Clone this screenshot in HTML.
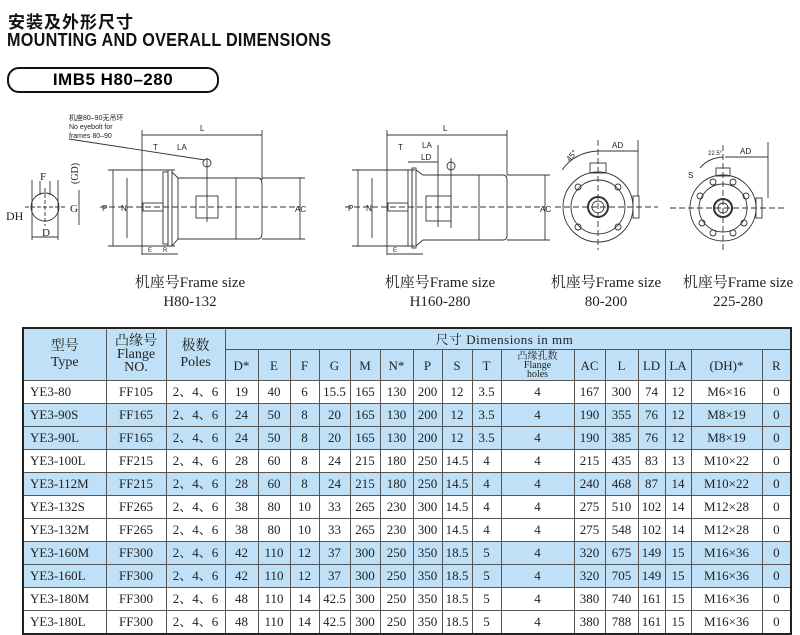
<!DOCTYPE html>
<html><head><meta charset="utf-8"><style>
body{margin:0;width:800px;height:633px;overflow:hidden;background:#fff;position:relative;font-family:"Liberation Serif","Noto Serif CJK SC",serif;}
.t1{position:absolute;left:8px;top:8px;font:bold 17px "Liberation Sans","Noto Sans CJK SC",sans-serif;color:#111;letter-spacing:1px}
.t2{position:absolute;left:7px;top:30px;font:bold 18px "Liberation Sans",sans-serif;color:#111;transform:scaleX(.9);transform-origin:left;letter-spacing:.3px}
.pill{position:absolute;left:7px;top:67px;width:208px;height:22px;border:2px solid #111;border-radius:12px;font:bold 17px "Liberation Sans",sans-serif;text-align:center;line-height:22px;letter-spacing:.5px}
.cap{position:absolute;font-size:15px;text-align:center;color:#222;line-height:19px}
table{position:absolute;left:22px;top:327px;border-collapse:collapse;table-layout:fixed;width:768px;border:2px solid #222;}
td{border:1px solid #555;text-align:center;font-size:13px;height:22px;line-height:22px;padding:0;white-space:nowrap;color:#222;overflow:hidden}
tr.b td{background:#bfe0f6}
thead td{background:#bfe0f6;line-height:13px}
td.l{text-align:left;padding-left:6px}
</style></head><body>
<div class="t1">安装及外形尺寸</div>
<div class="t2">MOUNTING AND OVERALL DIMENSIONS</div>
<div class="pill">IMB5 H80–280</div>

<svg width="800" height="320" style="position:absolute;left:0;top:0" stroke="#333" fill="none" stroke-width="0.9" font-family="Liberation Sans" font-size="8">
<circle cx="45" cy="207" r="14"/><line x1="25" y1="207" x2="65" y2="207" stroke-dasharray="4 2"/><line x1="45" y1="188" x2="45" y2="226" stroke-dasharray="4 2"/>
<line x1="32" y1="180" x2="32" y2="240"/><line x1="58" y1="180" x2="58" y2="240"/><line x1="32" y1="237" x2="58" y2="237"/>
<line x1="40" y1="181" x2="40" y2="195"/><line x1="50" y1="181" x2="50" y2="195"/><line x1="79" y1="190" x2="79" y2="225"/>
<text x="40" y="180" fill="#222" stroke="none" font-family="Liberation Serif" font-size="11">F</text>
<text x="70" y="212" fill="#222" stroke="none" font-family="Liberation Serif" font-size="11">G</text>
<text x="70" y="184" fill="#222" stroke="none" font-family="Liberation Serif" font-size="10" transform="rotate(-90 74 180)">(GD)</text>
<text x="6" y="220" fill="#222" stroke="none" font-family="Liberation Serif" font-size="12">DH</text>
<text x="42" y="236" fill="#222" stroke="none" font-family="Liberation Serif" font-size="11">D</text>
<text x="69" y="120" fill="#222" stroke="none" font-size="7">机座80–90无吊环</text>
<text x="69" y="129" fill="#222" stroke="none" font-size="7">No eyebolt for</text>
<text x="69" y="138" fill="#222" stroke="none" font-size="7">frames 80–90</text>
<line x1="69" y1="139" x2="205" y2="160"/>
<line x1="142" y1="135" x2="262" y2="135"/><text x="200" y="131" fill="#222" stroke="none">L</text>
<line x1="142" y1="130" x2="142" y2="255"/><line x1="262" y1="130" x2="262" y2="180"/>
<line x1="108" y1="170" x2="175" y2="170"/><line x1="108" y1="246" x2="175" y2="246"/>
<line x1="113" y1="170" x2="113" y2="246"/><line x1="127" y1="178" x2="127" y2="238"/>
<text x="102" y="211" fill="#222" stroke="none">P</text><text x="121" y="211" fill="#222" stroke="none">N</text>
<rect x="163" y="172" width="5" height="72"/><rect x="168" y="170" width="4" height="76"/>
<path d="M172 172 L178 178 L258 178 Q262 178 262 184 L262 233 Q262 239 258 239 L178 239 L172 246"/>
<line x1="178" y1="178" x2="178" y2="239"/><line x1="236" y1="178" x2="236" y2="239"/>
<rect x="196" y="196" width="22" height="22"/><line x1="207" y1="158" x2="207" y2="222"/><circle cx="207" cy="163" r="4"/>
<rect x="143" y="203" width="20" height="8"/>
<line x1="100" y1="207" x2="300" y2="207" stroke-dasharray="6 3"/>
<line x1="262" y1="178" x2="305" y2="178"/><line x1="262" y1="239" x2="305" y2="239"/><line x1="300" y1="178" x2="300" y2="239"/>
<text x="295" y="212" fill="#222" stroke="none">AC</text>
<text x="153" y="150" fill="#222" stroke="none">T</text><text x="177" y="150" fill="#222" stroke="none">LA</text>
<line x1="142" y1="254" x2="178" y2="254"/><text x="148" y="252" fill="#222" stroke="none" font-size="6">E</text><text x="163" y="252" fill="#222" stroke="none" font-size="6">R</text>
<line x1="387" y1="135" x2="507" y2="135"/><text x="443" y="131" fill="#222" stroke="none">L</text>
<line x1="387" y1="130" x2="387" y2="255"/><line x1="507" y1="130" x2="507" y2="175"/>
<line x1="352" y1="170" x2="415" y2="170"/><line x1="352" y1="246" x2="415" y2="246"/>
<line x1="358" y1="170" x2="358" y2="246"/><line x1="372" y1="178" x2="372" y2="238"/>
<text x="348" y="211" fill="#222" stroke="none">P</text><text x="366" y="211" fill="#222" stroke="none">N</text>
<rect x="408" y="170" width="4" height="76"/><rect x="412" y="168" width="4" height="80"/>
<path d="M416 170 L423 175 L503 175 Q507 175 507 180 L507 236 Q507 240 503 240 L423 240 L416 246"/>
<line x1="479" y1="175" x2="479" y2="240"/><rect x="426" y="196" width="25" height="25"/>
<line x1="451" y1="158" x2="451" y2="228"/><circle cx="451" cy="166" r="4"/><line x1="438" y1="145" x2="438" y2="227"/>
<rect x="388" y="203" width="20" height="8"/>
<line x1="345" y1="207" x2="545" y2="207" stroke-dasharray="6 3"/>
<line x1="507" y1="175" x2="550" y2="175"/><line x1="507" y1="240" x2="550" y2="240"/><line x1="545" y1="175" x2="545" y2="240"/>
<text x="540" y="212" fill="#222" stroke="none">AC</text>
<text x="398" y="150" fill="#222" stroke="none">T</text><text x="422" y="148" fill="#222" stroke="none">LA</text><text x="421" y="160" fill="#222" stroke="none">LD</text>
<line x1="408" y1="162" x2="438" y2="162"/>
<line x1="387" y1="254" x2="423" y2="254"/><text x="393" y="252" fill="#222" stroke="none" font-size="6">E</text>
<circle cx="598" cy="207" r="35"/><circle cx="598" cy="207" r="27"/><circle cx="598" cy="207" r="10" stroke-width="2"/><circle cx="598" cy="207" r="6"/>
<rect x="590" y="163" width="16" height="10"/><rect x="633" y="196" width="6" height="22"/>
<line x1="555" y1="207" x2="658" y2="207" stroke-dasharray="6 3"/><line x1="598" y1="140" x2="598" y2="250" stroke-dasharray="6 3"/>
<circle cx="578" cy="187" r="3"/><circle cx="618" cy="187" r="3"/><circle cx="578" cy="227" r="3"/><circle cx="618" cy="227" r="3"/>
<line x1="598" y1="151" x2="638" y2="151"/><line x1="638" y1="140" x2="638" y2="196"/>
<text x="612" y="148" fill="#222" stroke="none">AD</text><text x="566" y="160" fill="#222" stroke="none" transform="rotate(-50 570 157)">45°</text>
<path d="M562 170 Q575 152 598 151"/>
<circle cx="723" cy="208" r="33"/><circle cx="723" cy="208" r="24"/><circle cx="723" cy="208" r="9" stroke-width="2"/><circle cx="723" cy="208" r="5"/>
<rect x="716" y="168" width="14" height="8"/><rect x="756" y="198" width="6" height="20"/>
<line x1="670" y1="208" x2="785" y2="208" stroke-dasharray="6 3"/><line x1="723" y1="145" x2="723" y2="250" stroke-dasharray="6 3"/>
<circle cx="700" cy="196" r="3"/><circle cx="746" cy="196" r="3"/><circle cx="702" cy="223" r="3"/><circle cx="744" cy="223" r="3"/>
<circle cx="713" cy="182" r="3"/><circle cx="733" cy="182" r="3"/><circle cx="713" cy="233" r="3"/><circle cx="733" cy="233" r="3"/>
<line x1="725" y1="157" x2="768" y2="157"/><line x1="768" y1="142" x2="768" y2="198"/>
<text x="740" y="154" fill="#222" stroke="none">AD</text><text x="708" y="155" fill="#222" stroke="none" font-size="6">22.5°</text>
<path d="M700 168 Q708 158 723 157"/><text x="688" y="178" fill="#222" stroke="none">S</text>
</svg>

<div class="cap" style="left:115px;top:274px;width:150px">机座号Frame size<br>H80-132</div>
<div class="cap" style="left:365px;top:274px;width:150px">机座号Frame size<br>H160-280</div>
<div class="cap" style="left:531px;top:274px;width:150px">机座号Frame size<br>80-200</div>
<div class="cap" style="left:663px;top:274px;width:150px">机座号Frame size<br>225-280</div>

<table>
<colgroup><col style="width:83px"><col style="width:60px"><col style="width:59px"><col style="width:33px"><col style="width:32px"><col style="width:29px"><col style="width:31px"><col style="width:30px"><col style="width:33px"><col style="width:29px"><col style="width:30px"><col style="width:29px"><col style="width:73px"><col style="width:31px"><col style="width:33px"><col style="width:27px"><col style="width:26px"><col style="width:71px"><col style="width:29px"></colgroup>
<thead>
<tr><td rowspan="2" style="font-size:14px;line-height:16px">型号<br>Type</td><td rowspan="2" style="font-size:14px">凸缘号<br>Flange<br>NO.</td><td rowspan="2" style="font-size:14px;line-height:16px">极数<br>Poles</td><td colspan="16" style="height:20px;font-size:13px;text-align:left;padding-left:210px;letter-spacing:.5px">尺寸 Dimensions in mm</td></tr>
<tr style="height:31px"><td>D*</td><td>E</td><td>F</td><td>G</td><td>M</td><td>N*</td><td>P</td><td>S</td><td>T</td><td style="font-size:10px;line-height:9px">凸缘孔数<br>Flange<br>holes</td><td>AC</td><td>L</td><td>LD</td><td>LA</td><td>(DH)*</td><td>R</td></tr>
</thead>
<tbody>
<tr><td class="l">YE3-80</td><td>FF105</td><td>2、4、6</td><td>19</td><td>40</td><td>6</td><td>15.5</td><td>165</td><td>130</td><td>200</td><td>12</td><td>3.5</td><td>4</td><td>167</td><td>300</td><td>74</td><td>12</td><td>M6×16</td><td>0</td></tr>
<tr class="b"><td class="l">YE3-90S</td><td>FF165</td><td>2、4、6</td><td>24</td><td>50</td><td>8</td><td>20</td><td>165</td><td>130</td><td>200</td><td>12</td><td>3.5</td><td>4</td><td>190</td><td>355</td><td>76</td><td>12</td><td>M8×19</td><td>0</td></tr>
<tr class="b"><td class="l">YE3-90L</td><td>FF165</td><td>2、4、6</td><td>24</td><td>50</td><td>8</td><td>20</td><td>165</td><td>130</td><td>200</td><td>12</td><td>3.5</td><td>4</td><td>190</td><td>385</td><td>76</td><td>12</td><td>M8×19</td><td>0</td></tr>
<tr><td class="l">YE3-100L</td><td>FF215</td><td>2、4、6</td><td>28</td><td>60</td><td>8</td><td>24</td><td>215</td><td>180</td><td>250</td><td>14.5</td><td>4</td><td>4</td><td>215</td><td>435</td><td>83</td><td>13</td><td>M10×22</td><td>0</td></tr>
<tr class="b"><td class="l">YE3-112M</td><td>FF215</td><td>2、4、6</td><td>28</td><td>60</td><td>8</td><td>24</td><td>215</td><td>180</td><td>250</td><td>14.5</td><td>4</td><td>4</td><td>240</td><td>468</td><td>87</td><td>14</td><td>M10×22</td><td>0</td></tr>
<tr><td class="l">YE3-132S</td><td>FF265</td><td>2、4、6</td><td>38</td><td>80</td><td>10</td><td>33</td><td>265</td><td>230</td><td>300</td><td>14.5</td><td>4</td><td>4</td><td>275</td><td>510</td><td>102</td><td>14</td><td>M12×28</td><td>0</td></tr>
<tr><td class="l">YE3-132M</td><td>FF265</td><td>2、4、6</td><td>38</td><td>80</td><td>10</td><td>33</td><td>265</td><td>230</td><td>300</td><td>14.5</td><td>4</td><td>4</td><td>275</td><td>548</td><td>102</td><td>14</td><td>M12×28</td><td>0</td></tr>
<tr class="b"><td class="l">YE3-160M</td><td>FF300</td><td>2、4、6</td><td>42</td><td>110</td><td>12</td><td>37</td><td>300</td><td>250</td><td>350</td><td>18.5</td><td>5</td><td>4</td><td>320</td><td>675</td><td>149</td><td>15</td><td>M16×36</td><td>0</td></tr>
<tr class="b"><td class="l">YE3-160L</td><td>FF300</td><td>2、4、6</td><td>42</td><td>110</td><td>12</td><td>37</td><td>300</td><td>250</td><td>350</td><td>18.5</td><td>5</td><td>4</td><td>320</td><td>705</td><td>149</td><td>15</td><td>M16×36</td><td>0</td></tr>
<tr><td class="l">YE3-180M</td><td>FF300</td><td>2、4、6</td><td>48</td><td>110</td><td>14</td><td>42.5</td><td>300</td><td>250</td><td>350</td><td>18.5</td><td>5</td><td>4</td><td>380</td><td>740</td><td>161</td><td>15</td><td>M16×36</td><td>0</td></tr>
<tr><td class="l">YE3-180L</td><td>FF300</td><td>2、4、6</td><td>48</td><td>110</td><td>14</td><td>42.5</td><td>300</td><td>250</td><td>350</td><td>18.5</td><td>5</td><td>4</td><td>380</td><td>788</td><td>161</td><td>15</td><td>M16×36</td><td>0</td></tr>
</tbody></table>
</body></html>
